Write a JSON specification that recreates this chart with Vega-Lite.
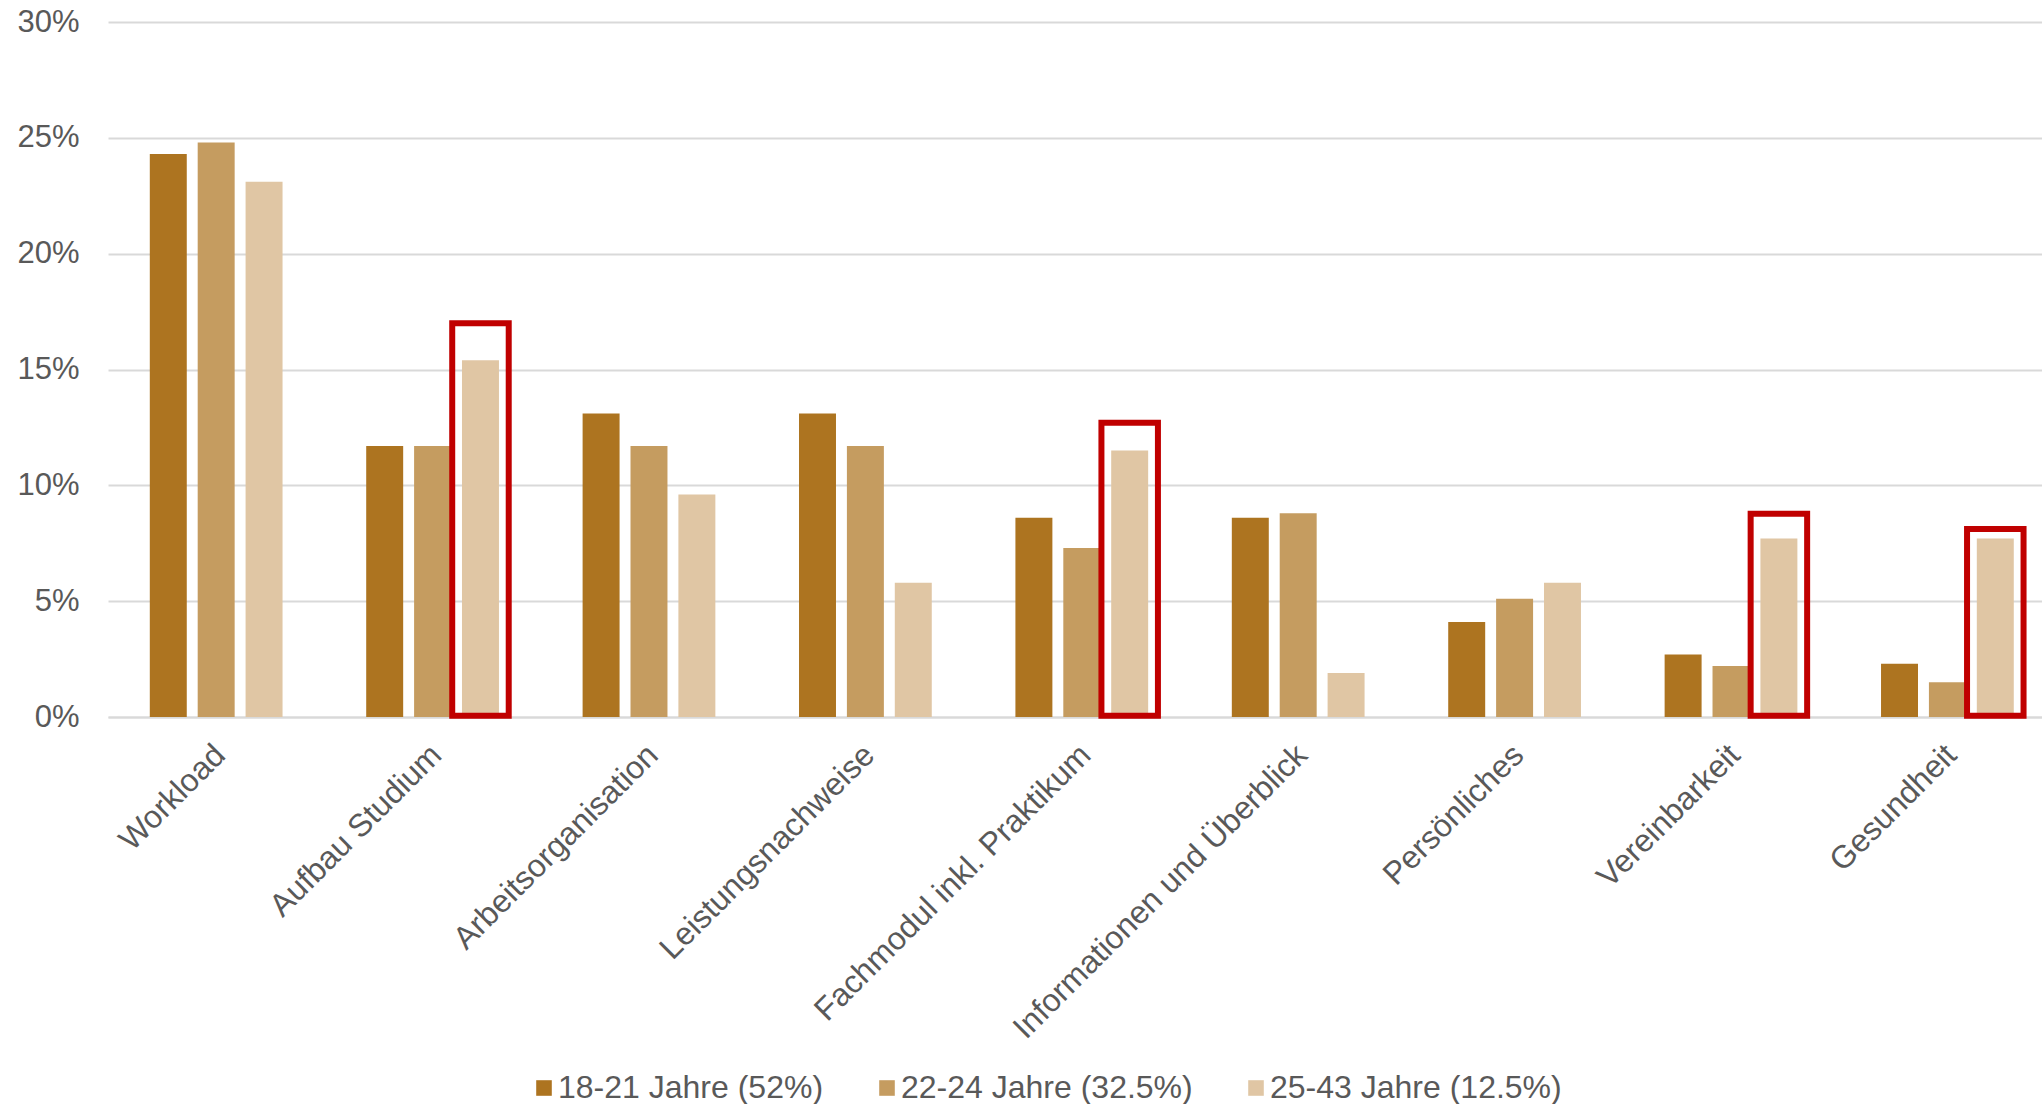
{
  "$schema": "https://vega.github.io/schema/vega-lite/v6.json",
  "autosize": {"type": "none"},
  "padding": {"left": 108, "top": 22, "right": 0, "bottom": 387},
  "width": 1934,
  "height": 695,
  "background": "white",
  "config": {
    "view": {"stroke": null},
    "font": "Liberation Sans",
    "axis": {"labelColor": "#595959", "labelFont": "Liberation Sans", "labelFontSize": 31, "title": null, "labelLimit": 700}
  },
  "datasets": {
    "bars": [
      {"cat": "Workload", "group": "18-21 Jahre (52%)", "value": 0.243},
      {"cat": "Workload", "group": "22-24 Jahre (32.5%)", "value": 0.248},
      {"cat": "Workload", "group": "25-43 Jahre (12.5%)", "value": 0.231},
      {"cat": "Aufbau Studium", "group": "18-21 Jahre (52%)", "value": 0.117},
      {"cat": "Aufbau Studium", "group": "22-24 Jahre (32.5%)", "value": 0.117},
      {"cat": "Aufbau Studium", "group": "25-43 Jahre (12.5%)", "value": 0.154},
      {"cat": "Arbeitsorganisation", "group": "18-21 Jahre (52%)", "value": 0.131},
      {"cat": "Arbeitsorganisation", "group": "22-24 Jahre (32.5%)", "value": 0.117},
      {"cat": "Arbeitsorganisation", "group": "25-43 Jahre (12.5%)", "value": 0.096},
      {"cat": "Leistungsnachweise", "group": "18-21 Jahre (52%)", "value": 0.131},
      {"cat": "Leistungsnachweise", "group": "22-24 Jahre (32.5%)", "value": 0.117},
      {"cat": "Leistungsnachweise", "group": "25-43 Jahre (12.5%)", "value": 0.058},
      {"cat": "Fachmodul inkl. Praktikum", "group": "18-21 Jahre (52%)", "value": 0.086},
      {"cat": "Fachmodul inkl. Praktikum", "group": "22-24 Jahre (32.5%)", "value": 0.073},
      {"cat": "Fachmodul inkl. Praktikum", "group": "25-43 Jahre (12.5%)", "value": 0.115},
      {"cat": "Informationen und Überblick", "group": "18-21 Jahre (52%)", "value": 0.086},
      {"cat": "Informationen und Überblick", "group": "22-24 Jahre (32.5%)", "value": 0.088},
      {"cat": "Informationen und Überblick", "group": "25-43 Jahre (12.5%)", "value": 0.019},
      {"cat": "Persönliches", "group": "18-21 Jahre (52%)", "value": 0.041},
      {"cat": "Persönliches", "group": "22-24 Jahre (32.5%)", "value": 0.051},
      {"cat": "Persönliches", "group": "25-43 Jahre (12.5%)", "value": 0.058},
      {"cat": "Vereinbarkeit", "group": "18-21 Jahre (52%)", "value": 0.027},
      {"cat": "Vereinbarkeit", "group": "22-24 Jahre (32.5%)", "value": 0.022},
      {"cat": "Vereinbarkeit", "group": "25-43 Jahre (12.5%)", "value": 0.077},
      {"cat": "Gesundheit", "group": "18-21 Jahre (52%)", "value": 0.023},
      {"cat": "Gesundheit", "group": "22-24 Jahre (32.5%)", "value": 0.015},
      {"cat": "Gesundheit", "group": "25-43 Jahre (12.5%)", "value": 0.077}
    ],
    "boxes": [
      {"cat": "Aufbau Studium", "group": "25-43 Jahre (12.5%)", "top": 0.170, "bottom": 0.0005},
      {"cat": "Fachmodul inkl. Praktikum", "group": "25-43 Jahre (12.5%)", "top": 0.127, "bottom": 0.0005},
      {"cat": "Vereinbarkeit", "group": "25-43 Jahre (12.5%)", "top": 0.0877, "bottom": 0.0005},
      {"cat": "Gesundheit", "group": "25-43 Jahre (12.5%)", "top": 0.0812, "bottom": 0.0005}
    ]
  },
  "encoding": {
    "x": {
      "field": "cat", "type": "nominal", "sort": null,
      "scale": {"paddingInner": 0.063, "paddingOuter": 0},
      "axis": {"labelAngle": -45, "labelPadding": 22, "labelFontSize": 32, "ticks": false, "domain": true, "domainColor": "#D9D9D9", "domainWidth": 2, "grid": false}
    },
    "xOffset": {
      "field": "group", "type": "nominal", "sort": ["18-21 Jahre (52%)", "22-24 Jahre (32.5%)", "25-43 Jahre (12.5%)"],
      "scale": {"paddingInner": 0.228, "paddingOuter": 0.731, "align": 0.597}
    }
  },
  "layer": [
    {
      "data": {"name": "bars"},
      "mark": {"type": "bar"},
      "encoding": {
        "y": {
          "field": "value", "type": "quantitative",
          "scale": {"domain": [0, 0.3], "nice": false},
          "axis": {"values": [0, 0.05, 0.1, 0.15, 0.2, 0.25, 0.3], "format": ".0%", "ticks": false, "domain": false, "grid": true, "gridColor": "#D9D9D9", "gridWidth": 2, "labelPadding": 29}
        },
        "color": {
          "field": "group", "type": "nominal",
          "sort": ["18-21 Jahre (52%)", "22-24 Jahre (32.5%)", "25-43 Jahre (12.5%)"],
          "scale": {"domain": ["18-21 Jahre (52%)", "22-24 Jahre (32.5%)", "25-43 Jahre (12.5%)"], "range": ["#AD7420", "#C59C60", "#E0C6A4"]},
          "legend": {
            "title": null, "orient": "none", "direction": "horizontal",
            "legendX": 420, "legendY": 1050,
            "symbolType": "square", "symbolSize": 243, "symbolStrokeWidth": 0,
            "labelFontSize": 32, "labelColor": "#595959", "labelFont": "Liberation Sans",
            "labelOffset": -2, "columnPadding": 47, "labelLimit": 500
          }
        }
      }
    },
    {
      "data": {"name": "boxes"},
      "mark": {"type": "bar", "filled": false, "stroke": "#C00000", "strokeWidth": 6, "width": 56.5},
      "encoding": {
        "y": {"field": "top", "type": "quantitative"},
        "y2": {"field": "bottom"}
      }
    }
  ]
}
